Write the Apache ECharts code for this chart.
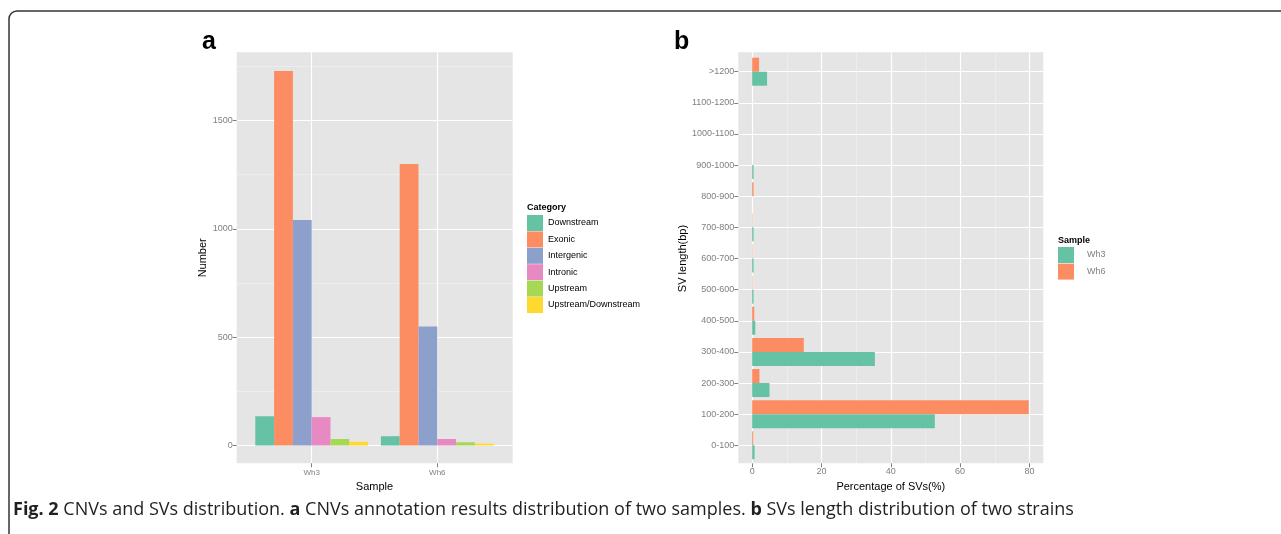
<!DOCTYPE html>
<html>
<head>
<meta charset="utf-8">
<script src="https://cdn.jsdelivr.net/npm/echarts@6/dist/echarts.min.js"></script>
<style>
  html, body { margin: 0; padding: 0; background: #fff; }
  #main { width: 1281px; height: 534px; }
</style>
</head>
<body>
<div id="main"></div>
<script>
// panel a: CNV annotation counts
var samples = ['Wh3', 'Wh6'];
var categories = ['Downstream', 'Exonic', 'Intergenic', 'Intronic', 'Upstream', 'Upstream/Downstream'];
var cnvCounts = [
  [135, 43],    // Downstream
  [1728, 1299], // Exonic
  [1040, 549],  // Intergenic
  [131, 30],    // Intronic
  [30, 15],     // Upstream
  [17, 9]       // Upstream/Downstream
];
var numberTicks = [0, 500, 1000, 1500];
var numberMinor = [250, 750, 1250, 1750];

// panel b: SV length distribution (%)
var lengthBins = ['0-100', '100-200', '200-300', '300-400', '400-500', '500-600', '600-700',
  '700-800', '800-900', '900-1000', '1000-1100', '1100-1200', '>1200'];
var wh3Pct = [0.7, 52.7, 5.0, 35.4, 0.9, 0.4, 0.4, 0.4, 0, 0.4, 0, 0, 4.3];
var wh6Pct = [0.3, 79.8, 2.1, 14.9, 0.6, 0.1, 0.1, 0.1, 0.4, 0, 0, 0, 2.0];
var pctTicks = [0, 20, 40, 60, 80];
var pctMinor = [10, 30, 50, 70];

var colors = ['#66C2A5', '#FC8D62', '#8DA0CB', '#E78AC3', '#A6D854', '#FFD92F'];
var panelBg = '#E5E5E5';
var tickGrey = '#808080';
var font = 'Liberation Sans';

var chart = echarts.init(document.getElementById('main'));

var seriesA = categories.map(function (c, i) {
  return {
    name: c,
    type: 'bar',
    xAxisIndex: 1,
    yAxisIndex: 2,
    barWidth: 18.8,
    barGap: '0%',
    clip: false,
    itemStyle: { color: colors[i] },
    data: cnvCounts[i]
  };
});

// Wh6 listed first so it sits above Wh3 in each band
var seriesB = [
  { name: 'Wh6', data: wh6Pct, color: colors[1] },
  { name: 'Wh3', data: wh3Pct, color: colors[0] }
].map(function (s) {
  return {
    name: s.name,
    type: 'bar',
    xAxisIndex: 4,
    yAxisIndex: 4,
    barWidth: 14,
    barGap: '0%',
    clip: false,
    itemStyle: { color: s.color },
    data: s.data
  };
});

function plain(v) { return String(v); }

var option = {
  animation: false,
  textStyle: { fontFamily: font },
  grid: [
    { left: 236.7, top: 52.3, width: 276, height: 411, show: true, backgroundColor: panelBg, borderWidth: 0 },
    { left: 311.7, top: 52.3, width: 125.6, height: 411 },
    { left: 738.3, top: 52.3, width: 305, height: 411, show: true, backgroundColor: panelBg, borderWidth: 0 },
    { left: 738.3, top: 71.7, width: 305, height: 373.6 }
  ],
  xAxis: [
    { gridIndex: 0, type: 'value', show: false, min: 0, max: 1 },
    {
      gridIndex: 1, type: 'category', data: samples, boundaryGap: false,
      axisLine: { show: false, onZero: false },
      axisTick: { show: true, length: 4, lineStyle: { color: tickGrey } },
      axisLabel: { color: tickGrey, fontSize: 8, margin: 5 },
      splitLine: { show: true, lineStyle: { color: '#fff', width: 1.2 } },
      name: 'Sample', nameLocation: 'middle', nameGap: 17,
      nameTextStyle: { color: '#000', fontSize: 11 }
    },
    {
      gridIndex: 2, type: 'value', min: -4, max: 84,
      axisLine: { show: false, onZero: false },
      axisTick: { show: true, length: 4, customValues: pctTicks, lineStyle: { color: tickGrey } },
      axisLabel: { color: tickGrey, fontSize: 9, margin: 4, customValues: pctTicks, formatter: plain },
      splitLine: { show: true, lineStyle: { color: '#fff', width: 1.2 } },
      name: 'Percentage of SVs(%)', nameLocation: 'middle', nameGap: 17,
      nameTextStyle: { color: '#000', fontSize: 11 }
    },
    {
      gridIndex: 2, type: 'value', min: -4, max: 84, position: 'bottom',
      axisLine: { show: false, onZero: false },
      axisTick: { show: false, customValues: pctMinor },
      axisLabel: { show: false },
      splitLine: { show: true, lineStyle: { color: '#F2F2F2', width: 0.6 } }
    },
    { gridIndex: 3, type: 'value', show: false, min: -4, max: 84 }
  ],
  yAxis: [
    {
      gridIndex: 0, type: 'value', min: -82, max: 1814,
      axisLine: { show: false, onZero: false },
      axisTick: { show: true, length: 4, customValues: numberTicks, lineStyle: { color: tickGrey } },
      axisLabel: { color: tickGrey, fontSize: 9, margin: 4, customValues: numberTicks, formatter: plain },
      splitLine: { show: true, lineStyle: { color: '#fff', width: 1.2 } },
      name: 'Number', nameLocation: 'middle', nameRotate: 90, nameGap: 28,
      nameTextStyle: { color: '#000', fontSize: 11 }
    },
    {
      gridIndex: 0, type: 'value', min: -82, max: 1814, position: 'left',
      axisLine: { show: false, onZero: false },
      axisTick: { show: false, customValues: numberMinor },
      axisLabel: { show: false },
      splitLine: { show: true, lineStyle: { color: '#F2F2F2', width: 0.6 } }
    },
    { gridIndex: 1, type: 'value', show: false, min: -82, max: 1814 },
    { gridIndex: 2, type: 'value', show: false, min: 0, max: 1 },
    {
      gridIndex: 3, type: 'category', data: lengthBins, boundaryGap: false,
      axisLine: { show: false, onZero: false },
      axisTick: { show: true, length: 4, lineStyle: { color: tickGrey } },
      axisLabel: { color: tickGrey, fontSize: 9, margin: 4 },
      splitLine: { show: true, lineStyle: { color: '#fff', width: 1.2 } },
      name: 'SV length(bp)', nameLocation: 'middle', nameRotate: 90, nameGap: 50,
      nameTextStyle: { color: '#000', fontSize: 11 }
    }
  ],
  legend: [
    {
      data: categories, orient: 'vertical', left: 527, top: 215, padding: 0,
      icon: 'rect', itemWidth: 16, itemHeight: 16, itemGap: 0.4,
      textStyle: { color: '#000', fontSize: 9, fontFamily: font },
      selectedMode: false
    },
    {
      data: ['Wh3', 'Wh6'], orient: 'vertical', left: 1058, top: 247, padding: 0,
      icon: 'rect', itemWidth: 16, itemHeight: 16, itemGap: 0.6,
      textStyle: { color: tickGrey, fontSize: 9, fontFamily: font, padding: [0, 0, 0, 8] },
      selectedMode: false
    }
  ],
  graphic: [
    {
      type: 'polyline',
      shape: { points: [[9, 534], [9, 19]] },
      style: { fill: 'none', stroke: '#333', lineWidth: 1.5 }
    },
    {
      type: 'arc',
      shape: { cx: 17, cy: 19, r: 8, startAngle: Math.PI, endAngle: Math.PI * 1.5 },
      style: { fill: 'none', stroke: '#333', lineWidth: 1.5 }
    },
    {
      type: 'polyline',
      shape: { points: [[17, 11], [1281, 11]] },
      style: { fill: 'none', stroke: '#333', lineWidth: 1.5 }
    },
    { type: 'text', left: 202, top: 30, style: { text: 'a', font: 'bold 25px "Liberation Sans"', fill: '#000' } },
    { type: 'text', left: 674, top: 30, style: { text: 'b', font: 'bold 25px "Liberation Sans"', fill: '#000' } },
    { type: 'text', left: 527, top: 203, style: { text: 'Category', font: 'bold 9px "Liberation Sans"', fill: '#000' } },
    { type: 'text', left: 1058, top: 236, style: { text: 'Sample', font: 'bold 9px "Liberation Sans"', fill: '#000' } },
    {
      type: 'text', x: 13, y: 510,
      style: {
        text: '{b|Fig. 2} CNVs and SVs distribution. {b|a} CNVs annotation results distribution of two samples. {b|b} SVs length distribution of two strains',
        font: '18px "Open Sans"', fill: '#231F20', verticalAlign: 'middle',
        rich: { b: { fontWeight: 'bold', fontSize: 18, fontFamily: 'Open Sans', fill: '#231F20' } }
      }
    }
  ],
  series: seriesA.concat(seriesB)
};

chart.setOption(option);
</script>
</body>
</html>
